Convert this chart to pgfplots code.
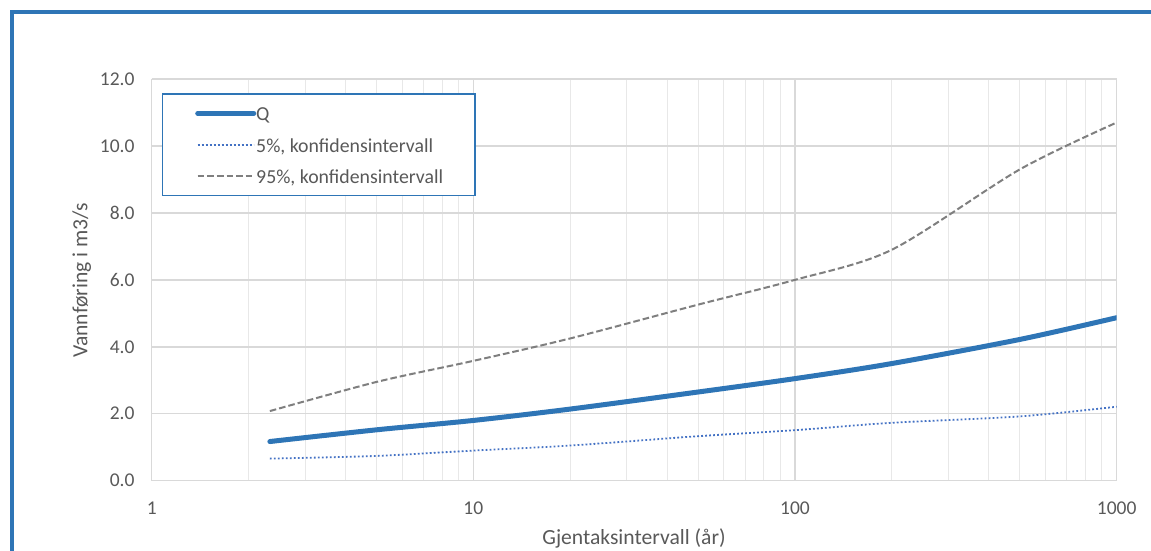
\documentclass[border=0pt]{standalone}
\usepackage{fontspec}
\setmainfont{Carlito}
\usepackage{pgfplots}
\pgfplotsset{compat=1.18}
\definecolor{qblue}{HTML}{2E75B6}
\definecolor{dotblue}{HTML}{4472C4}
\definecolor{dashgray}{HTML}{7F7F7F}
\definecolor{gridc}{HTML}{D9D9D9}
\definecolor{minorgridc}{HTML}{E8E8E8}
\definecolor{txt}{HTML}{595959}
\begin{document}
\begin{tikzpicture}
\useasboundingbox (0,0) rectangle (575.5pt,275.5pt);
\draw[qblue, line width=1.6pt] (6pt,-10pt) -- (6pt,269.5pt) -- (590pt,269.5pt);
\begin{axis}[
  at={(75.85pt,35.15pt)}, anchor=south west,
  scale only axis, width=482.5pt, height=200.85pt,
  xmode=log, log basis x=10,
  xmin=1, xmax=1000, ymin=0, ymax=12,
  xtick={1,10,100,1000}, xticklabels={1,10,100,1000},
  minor xtick={2,3,...,9,20,30,...,90,200,300,...,900},
  ytick={0,2,4,6,8,10,12},
  /pgf/number format/assume math mode=true,
  yticklabel style={/pgf/number format/.cd, fixed, fixed zerofill, precision=1},
  xmajorgrids, xminorgrids, ymajorgrids,
  major grid style={draw=gridc, line width=0.75pt},
  minor grid style={draw=minorgridc, line width=0.5pt},
  axis line style={draw=none},
  tick style={draw=none},
  major tick length=0pt, minor tick length=0pt,
  tick label style={font=\fontsize{9.75}{11}\selectfont, text=txt, inner sep=0pt},
  xticklabel shift=10.5pt,
  yticklabel shift=8.4pt,
  legend cell align=left,
  legend style={at={(axis description cs:0.01067,0.9644)}, anchor=north west,
    draw=qblue, line width=0.75pt, fill=white,
    inner xsep=0pt, inner ysep=4.45pt, row sep=5.3pt,
    font=\fontsize{9.9}{11}\selectfont, text=txt,
    nodes={inner sep=0pt, text height=9pt, text depth=1.45pt}},
  legend image code/.code={%
    \path[draw=none] (0pt,0pt) -- (45.5pt,0pt);
    \draw[#1] (17.5pt,0pt) -- (45.5pt,0pt);},
]
\addplot[qblue, line width=2.5pt, line cap=round, smooth] coordinates {
 (2.33,1.17) (5,1.52) (10,1.80) (20,2.14) (50,2.65) (100,3.05) (200,3.50) (500,4.22) (1000,4.87)};
\addlegendentry{\makebox[109.5pt][l]{Q}}
\addplot[dotblue, line width=0.9pt, dash pattern=on 0.9pt off 1.1pt, smooth] coordinates {
 (2.33,0.66) (5,0.74) (10,0.90) (20,1.05) (50,1.33) (100,1.51) (200,1.73) (500,1.92) (1000,2.21)};
\addlegendentry{\makebox[109.5pt][l]{5\%, konfidensintervall}}
\addplot[dashgray, line width=1pt, dash pattern=on 3.3pt off 1.5pt, smooth] coordinates {
 (2.33,2.08) (5,2.95) (10,3.58) (20,4.25) (50,5.26) (100,6.00) (200,6.90) (500,9.30) (1000,10.70)};
\addlegendentry{\makebox[109.5pt][l]{95\%, konfidensintervall}}
\end{axis}
\node[rotate=90, anchor=base, text=txt, font=\fontsize{10.8}{12}\selectfont, inner sep=0pt] at (43.65pt,135.25pt) {Vannføring i m3/s};
\node[anchor=base, text=txt, font=\fontsize{10.8}{12}\selectfont, inner sep=0pt] at (317pt,3.35pt) {Gjentaksintervall (år)};
\end{tikzpicture}
\end{document}
